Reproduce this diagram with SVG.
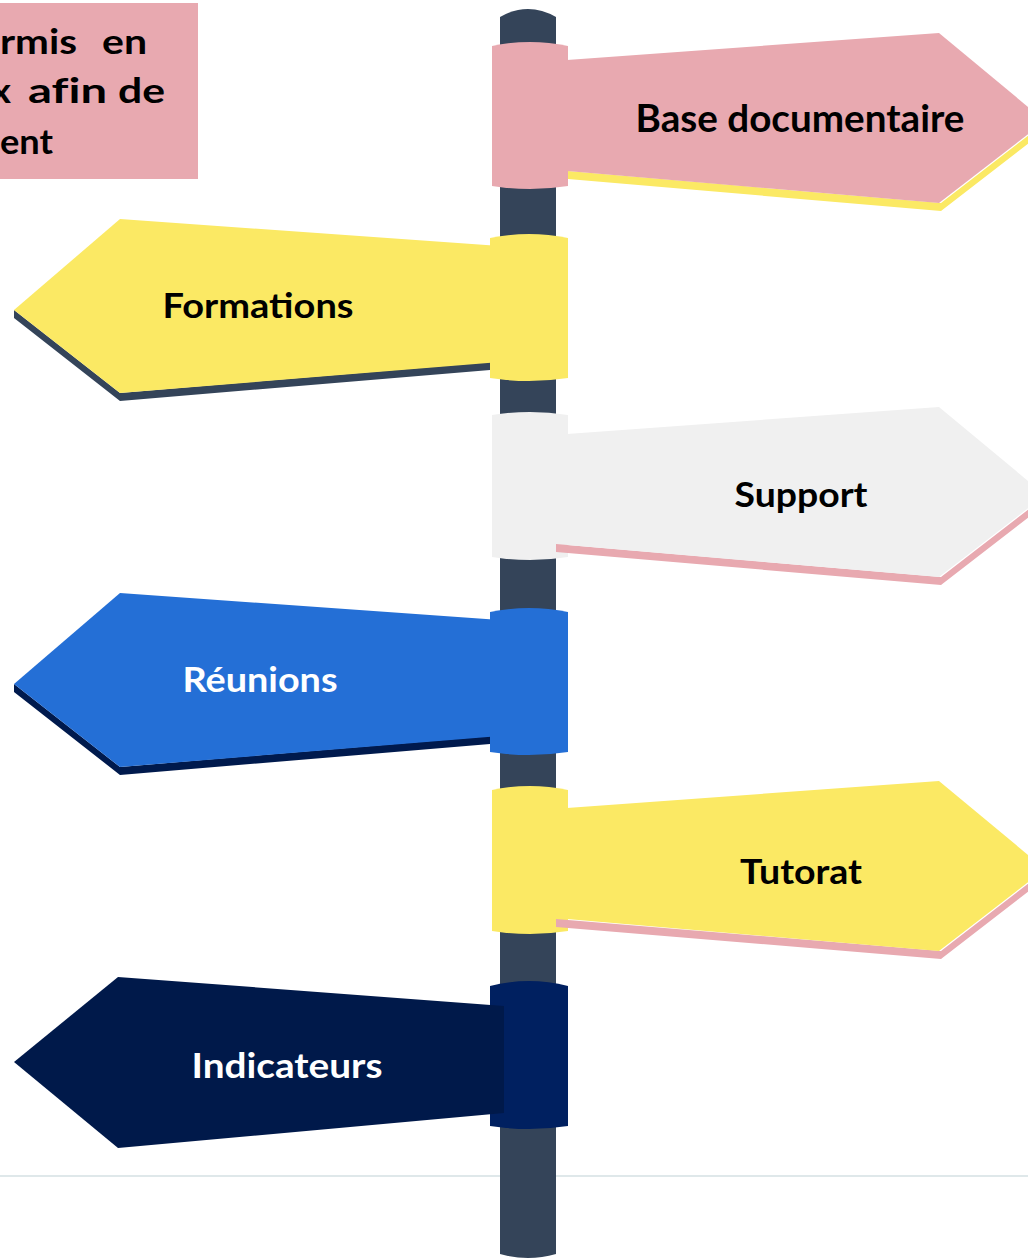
<svg xmlns="http://www.w3.org/2000/svg" width="1028" height="1259" viewBox="0 0 1028 1259">
<style>
.lbl{font-family:Lato,"Open Sans","Liberation Sans",sans-serif;font-weight:700;text-anchor:middle}
.box{font-family:Lato,"Open Sans","Liberation Sans",sans-serif;font-weight:700;font-size:35px;fill:#000;font-variant-ligatures:none}
.pink{fill:#E8A9B0}.yellow{fill:#FBE964}.gray{fill:#F0F0F0}.blue{fill:#246FD6}.slate{fill:#344459}
</style>
<rect width="1028" height="1259" fill="#FFFFFF"/>
<g id="textbox">
<rect x="0" y="3" width="198" height="176" class="pink"/>
<text class="box" x="0" y="54" textLength="77" lengthAdjust="spacingAndGlyphs">rmis</text>
<text class="box" x="102" y="54" textLength="45" lengthAdjust="spacingAndGlyphs">en</text>
<text class="box" x="-9" y="103" textLength="20" lengthAdjust="spacingAndGlyphs">x</text>
<text class="box" x="28" y="103" textLength="79" lengthAdjust="spacingAndGlyphs">afin</text>
<text class="box" x="118" y="103" textLength="47" lengthAdjust="spacingAndGlyphs">de</text>
<text class="box" x="0" y="154" textLength="53" lengthAdjust="spacingAndGlyphs">ent</text>
</g>
<g id="connectors">
<line x1="0" y1="1176" x2="1028" y2="1176" stroke="#DFE8EA" stroke-width="2"/>
<path id="pole" class="slate" d="M500,17 Q528,1 556,17 L556,1254 Q528,1262 500,1254 Z"/>
</g>
<g id="sign-base">
<path class="pink" d="M492,46 Q530,38 568,46 L568,186 Q530,192 492,186 Z"/>
<polygon class="yellow" points="568,179 941,211 1047,129 1047,121 941,203 568,171"/>
<polygon class="pink" points="567,60 939,33 1045,121 939,203 567,171"/>
<text class="lbl" x="800" y="132" font-size="38" fill="#000" textLength="329" lengthAdjust="spacingAndGlyphs">Base documentaire</text>
</g>
<g id="sign-formations">
<polygon class="slate" points="490,370 120,401 14,318 14,310 120,393 490,362"/>
<polygon class="yellow" points="500,246 120,219 14,310 120,393 500,362"/>
<path class="yellow" d="M490,238 Q529,230 568,238 L568,378 Q529,384 490,378 Z"/>
<text class="lbl" x="258" y="318" font-size="34" fill="#000" textLength="191" lengthAdjust="spacingAndGlyphs">Formations</text>
</g>
<g id="sign-support">
<path class="gray" d="M492,415 Q530,409 568,415 L568,557 Q530,563 492,557 Z"/>
<polygon class="pink" points="556,552 941,585 1047,503 1047,495 941,577 556,544"/>
<polygon class="gray" points="567,434 939,407 1045,495 939,577 567,545"/>
<text class="lbl" x="801" y="507" font-size="34" fill="#000" textLength="133" lengthAdjust="spacingAndGlyphs">Support</text>
</g>
<g id="sign-reunions">
<polygon fill="#001A4D" points="490,744 120,775 14,692 14,684 120,767 490,736"/>
<polygon class="blue" points="500,620 120,593 14,684 120,767 500,736"/>
<path class="blue" d="M490,612 Q529,604 568,612 L568,752 Q529,758 490,752 Z"/>
<text class="lbl" x="260" y="692" font-size="34" fill="#FFFFFF" textLength="155" lengthAdjust="spacingAndGlyphs">Réunions</text>
</g>
<g id="sign-tutorat">
<path class="yellow" d="M492,790 Q530,782 568,790 L568,931 Q530,937 492,931 Z"/>
<polygon class="pink" points="556,927 941,959 1047,877 1047,869 941,951 556,919"/>
<polygon class="yellow" points="567,808 939,781 1045,869 939,951 567,919"/>
<text class="lbl" x="801" y="884" font-size="34" fill="#000" textLength="122" lengthAdjust="spacingAndGlyphs">Tutorat</text>
</g>
<g id="sign-indicateurs">
<path fill="#002060" d="M490,986 Q529,976 568,986 L568,1126 Q529,1132 490,1126 Z"/>
<polygon fill="#00194A" points="504,1006 118,977 14,1062 118,1148 504,1113"/>
<text class="lbl" x="287" y="1078" font-size="34" fill="#FFFFFF" textLength="191" lengthAdjust="spacingAndGlyphs">Indicateurs</text>
</g>
</svg>
